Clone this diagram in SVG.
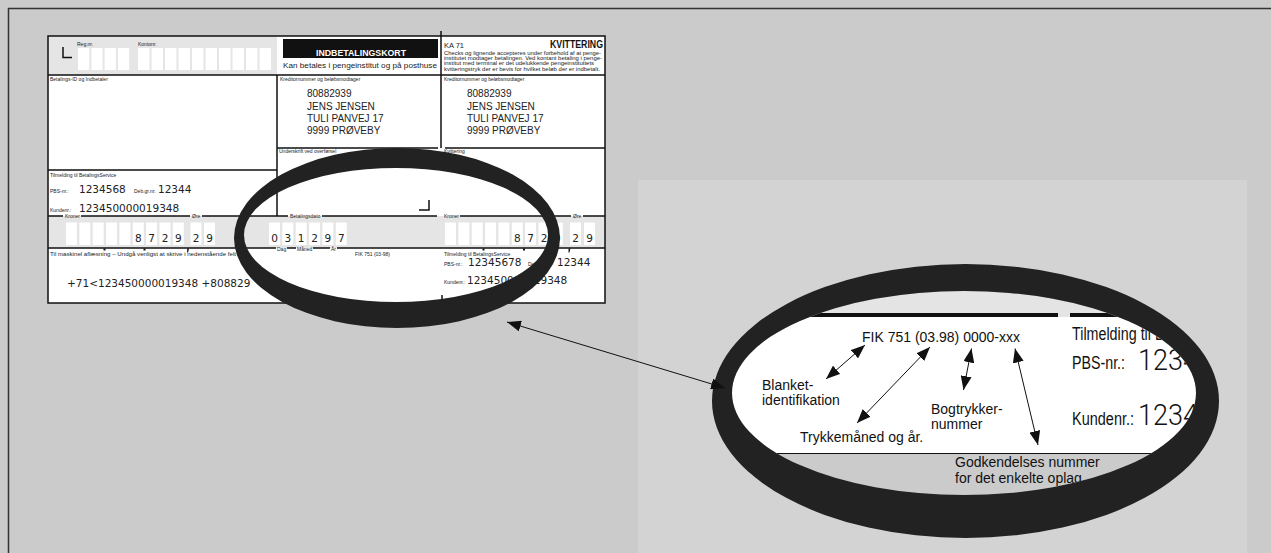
<svg xmlns="http://www.w3.org/2000/svg" width="1271" height="553" viewBox="0 0 1271 553">
<style>
.t5{font-family:"Liberation Sans",Arial,sans-serif;font-size:5px;fill:#222}
.ocr{font-family:"DejaVu Sans",sans-serif;font-size:10.5px;fill:#222}
.adr{font-family:"Liberation Sans",Arial,sans-serif;font-size:10px;fill:#222}
.dig{font-family:"DejaVu Sans",sans-serif;font-size:10.5px;fill:#222;text-anchor:middle}
.big{font-family:"Liberation Sans",Arial,sans-serif;font-size:14px;fill:#111}
.cnd{font-family:"Liberation Sans Narrow","Liberation Sans",Arial,sans-serif;font-size:17.5px;fill:#111}
.thin{font-family:Roboto,"Liberation Sans",sans-serif;font-weight:300;font-size:30px;fill:#111}
.ln{stroke:#111;stroke-width:1.5;fill:none}
.box{fill:#fff}
.ring{fill:#222;fill-rule:evenodd}
.arr{stroke:#111;stroke-width:1;fill:none;marker-start:url(#ah);marker-end:url(#ah)}
</style>
<defs>
<marker id="ah" viewBox="0 0 14 11" refX="14" refY="5.5" markerWidth="14" markerHeight="11" markerUnits="userSpaceOnUse" orient="auto-start-reverse"><path d="M0,0 L14,5.5 L0,11 z" fill="#111"/></marker>
<clipPath id="mag"><ellipse cx="964" cy="393" rx="232" ry="102"/></clipPath>
</defs>

<g id="background">
<rect width="1271" height="553" fill="#cbcbcb"/>
<path d="M8.5,553 V8.5 H1271" stroke="#333" stroke-width="1.5" fill="none"/>
<rect x="638" y="180" width="609" height="373" fill="#d3d3d4"/>
</g>

<g id="form">
<rect x="48" y="36" width="557" height="267" fill="#fff"/>
<rect x="48" y="36" width="229" height="39" fill="#e5e5e5"/>
<rect x="48" y="216" width="557" height="32" fill="#e5e5e5"/>
<g class="box">
<rect x="78" y="48" width="11.3" height="22"/><rect x="91.3" y="48" width="11.3" height="22"/><rect x="104.6" y="48" width="11.3" height="22"/><rect x="117.9" y="48" width="11.3" height="22"/>
<rect x="138" y="48" width="11.5" height="22"/><rect x="151.5" y="48" width="11.5" height="22"/><rect x="165" y="48" width="11.5" height="22"/><rect x="178.5" y="48" width="11.5" height="22"/><rect x="192" y="48" width="11.5" height="22"/><rect x="205.5" y="48" width="11.5" height="22"/><rect x="219" y="48" width="11.5" height="22"/><rect x="232.5" y="48" width="11.5" height="22"/><rect x="246" y="48" width="11.5" height="22"/><rect x="259.5" y="48" width="11.5" height="22"/>
</g>
<path class="ln" stroke-width="2" d="M63,47 V57.5 H72"/>
<text class="t5" x="77" y="45.5">Reg.nr.</text>
<text class="t5" x="138" y="45.5">Kontonr.</text>
<rect x="283" y="39" width="155" height="19" fill="#111"/>
<text x="361" y="56" text-anchor="middle" font-family="Liberation Sans,Arial,sans-serif" font-weight="bold" font-size="9.3" fill="#fff" textLength="90" lengthAdjust="spacingAndGlyphs">INDBETALINGSKORT</text>
<text x="283" y="67.5" font-family="Liberation Sans,Arial,sans-serif" font-size="7.3" fill="#222" textLength="154" lengthAdjust="spacingAndGlyphs">Kan betales i pengeinstitut og på posthuse</text>
<text x="444" y="47.5" font-family="Liberation Sans,Arial,sans-serif" font-size="7.5" fill="#222">KA 71</text>
<text x="550" y="48.3" font-family="Liberation Sans,Arial,sans-serif" font-weight="bold" font-size="10" fill="#111" textLength="53" lengthAdjust="spacingAndGlyphs">KVITTERING</text>
<text class="t5" x="444" y="54.5" font-size="4.8" textLength="157" lengthAdjust="spacingAndGlyphs">Checks og lignende accepteres under forbehold af at penge-</text>
<text class="t5" x="444" y="60" font-size="4.8" textLength="158" lengthAdjust="spacingAndGlyphs">institutet modtager betalingen. Ved kontant betaling i penge-</text>
<text class="t5" x="444" y="65.3" font-size="4.8" textLength="150" lengthAdjust="spacingAndGlyphs">institut med terminal er det udelukkende pengeinstituttets</text>
<text class="t5" x="444" y="70.6" font-size="4.8" textLength="156" lengthAdjust="spacingAndGlyphs">kvitteringstryk der er bevis for hvilket beløb der er indbetalt.</text>
<rect class="ln" x="48" y="36" width="557" height="267"/>
<path class="ln" d="M48,75 H605 M277,75 V216 M48,170 H277 M441,31 V148 M277,148 H438 M445,148 H605 M442,295 V303"/>
<path class="ln" stroke-width="2" d="M419,210 H429 V200"/>
<text class="t5" x="50" y="81">Betalings-ID og Indbetaler</text>
<text class="t5" x="280" y="81">Kreditornummer og beløbsmodtager</text>
<text class="t5" x="444" y="81">Kreditornummer og beløbsmodtager</text>
<text class="adr" x="307" y="97">80882939</text>
<text class="adr" x="307" y="110">JENS JENSEN</text>
<text class="adr" x="307" y="122">TULI PANVEJ 17</text>
<text class="adr" x="307" y="134">9999 PRØVEBY</text>
<text class="adr" x="467" y="97">80882939</text>
<text class="adr" x="467" y="110">JENS JENSEN</text>
<text class="adr" x="467" y="122">TULI PANVEJ 17</text>
<text class="adr" x="467" y="134">9999 PRØVEBY</text>
<text class="t5" x="279" y="152.5">Underskrift ved overførsel</text>
<text class="t5" x="444" y="152.5">Kvittering</text>
<text class="t5" x="50" y="176.5">Tilmelding til BetalingsService</text>
<text class="t5" x="50" y="193">PBS-nr.:</text>
<text class="ocr" x="79" y="193">1234568</text>
<text class="t5" x="134" y="193">Deb.gr.nr.</text>
<text class="ocr" x="158" y="193">12344</text>
<text class="t5" x="50" y="212">Kundenr.:</text>
<text class="ocr" x="79" y="212">123450000019348</text>
<path class="ln" d="M48,216 H63 M81,216 H190 M202,216 H288 M322,216 H437 M460,216 H571 M583,216 H605"/>
<text class="t5" x="65" y="217.7">Kroner</text>
<text class="t5" x="192" y="217.7">Øre</text>
<text class="t5" x="290" y="217.7">Betalingsdato</text>
<text class="t5" x="444" y="217.7">Kroner</text>
<text class="t5" x="573" y="217.7">Øre</text>
<g class="box">
<rect x="66" y="222.5" width="11" height="22.5"/><rect x="79.35" y="222.5" width="11" height="22.5"/><rect x="92.7" y="222.5" width="11" height="22.5"/><rect x="106.05" y="222.5" width="11" height="22.5"/><rect x="119.4" y="222.5" width="11" height="22.5"/><rect x="132.75" y="222.5" width="11" height="22.5"/><rect x="146.1" y="222.5" width="11" height="22.5"/><rect x="159.45" y="222.5" width="11" height="22.5"/><rect x="172.8" y="222.5" width="11" height="22.5"/>
<rect x="190.5" y="222.5" width="11" height="22.5"/><rect x="204" y="222.5" width="11" height="22.5"/>
<rect x="269" y="222.5" width="11" height="22.5"/><rect x="282.35" y="222.5" width="11" height="22.5"/><rect x="295.7" y="222.5" width="11" height="22.5"/><rect x="309.05" y="222.5" width="11" height="22.5"/><rect x="322.4" y="222.5" width="11" height="22.5"/><rect x="335.75" y="222.5" width="11" height="22.5"/>
<rect x="445" y="222.5" width="11" height="22.5"/><rect x="458.35" y="222.5" width="11" height="22.5"/><rect x="471.7" y="222.5" width="11" height="22.5"/><rect x="485.05" y="222.5" width="11" height="22.5"/><rect x="498.4" y="222.5" width="11" height="22.5"/><rect x="511.75" y="222.5" width="11" height="22.5"/><rect x="525.1" y="222.5" width="11" height="22.5"/><rect x="538.45" y="222.5" width="11" height="22.5"/><rect x="551.8" y="222.5" width="11" height="22.5"/>
<rect x="570" y="222.5" width="11" height="22.5"/><rect x="584" y="222.5" width="11" height="22.5"/>
</g>
<text class="dig" x="138.3" y="241.5">8</text><text class="dig" x="151.6" y="241.5">7</text><text class="dig" x="165" y="241.5">2</text><text class="dig" x="178.3" y="241.5">9</text>
<text class="dig" x="196" y="241.5">2</text><text class="dig" x="209.5" y="241.5">9</text>
<text class="dig" x="274.5" y="241.5">0</text><text class="dig" x="287.9" y="241.5">3</text><text class="dig" x="301.2" y="241.5">1</text><text class="dig" x="314.6" y="241.5">2</text><text class="dig" x="327.9" y="241.5">9</text><text class="dig" x="341.3" y="241.5">7</text>
<text class="dig" x="517.3" y="241.5">8</text><text class="dig" x="530.6" y="241.5">7</text><text class="dig" x="544" y="241.5">2</text><text class="dig" x="557.3" y="241.5">9</text>
<text class="dig" x="575.5" y="241.5">2</text><text class="dig" x="589.5" y="241.5">9</text>
<path class="ln" d="M48,248 H276 M287,248 H296 M313,248 H330 M337,248 H605"/>
<g fill="#111">
<rect x="103.5" y="248.5" width="2" height="2"/><rect x="143.5" y="248.5" width="2" height="2"/><path d="M187.2,248.5 h1.8 l-0.9,4 h-1 z"/>
<rect x="482.5" y="248.5" width="2" height="2"/><rect x="523" y="248.5" width="2" height="2"/><path d="M568.6,248.5 h1.8 l-0.9,4 h-1 z"/>
</g>
<text class="t5" x="277" y="251">Dag</text>
<text class="t5" x="297" y="251">Måned</text>
<text class="t5" x="331" y="251">År</text>
<text class="t5" x="50" y="256" textLength="186" lengthAdjust="spacingAndGlyphs">Til maskinel aflæsning – Undgå venligst at skrive i nedenstående felt</text>
<text class="ocr" x="67" y="286.5">+71&lt;123450000019348 +808829</text>
<text class="t5" x="355" y="256" font-size="5.7">FIK 751 (03-98)</text>
<text class="t5" x="444" y="256">Tilmelding til BetalingsService</text>
<text class="t5" x="444" y="266">PBS-nr.:</text>
<text class="ocr" x="468" y="266">12345678</text>
<text class="t5" x="528" y="266">Deb.gr.nr.</text>
<text class="ocr" x="557" y="266">12344</text>
<text class="t5" x="444" y="283.5">Kundenr.:</text>
<text class="ocr" x="467" y="283.5">123450000019348</text>
</g>

<g id="lens-small">
<path class="ring" d="M234,238 a163,90 0 1,0 326,0 a163,90 0 1,0 -326,0 Z M244,235 a152,67 0 1,0 304,0 a152,67 0 1,0 -304,0 Z"/>
</g>

<g id="magnified" clip-path="url(#mag)">
<rect x="700" y="280" width="540" height="240" fill="#cbcbcb"/>
<rect x="700" y="280" width="540" height="37" fill="#e4e4e4"/>
<rect x="700" y="313" width="358" height="4" fill="#111"/>
<rect x="1070" y="313" width="170" height="4" fill="#111"/>
<rect x="700" y="317" width="540" height="136" fill="#fff"/>
<path d="M700,453.5 H1240" stroke="#111" stroke-width="1.2"/>
<text class="big" x="862" y="342">FIK 751 (03.98) 0000-xxx</text>
<text class="big" x="762" y="390">Blanket-</text>
<text class="big" x="762" y="405">identifikation</text>
<text class="big" x="931" y="413.5">Bogtrykker-</text>
<text class="big" x="931" y="428.5">nummer</text>
<text class="big" x="800" y="441.5">Trykkemåned og år.</text>
<text class="big" x="955" y="467">Godkendelses nummer</text>
<text class="big" x="955" y="483">for det enkelte oplag</text>
<text class="cnd" x="1072" y="340" textLength="189.5" lengthAdjust="spacingAndGlyphs">Tilmelding til BetalingsService</text>
<text class="cnd" x="1072" y="369" textLength="53" lengthAdjust="spacingAndGlyphs">PBS-nr.:</text>
<text class="thin" x="1138" y="369.5" textLength="120" lengthAdjust="spacingAndGlyphs">12345678</text>
<text class="cnd" x="1072" y="425" textLength="62" lengthAdjust="spacingAndGlyphs">Kundenr.:</text>
<text class="thin" x="1138" y="425" textLength="225" lengthAdjust="spacingAndGlyphs">123450000019348</text>
</g>

<g id="lens-large">
<path class="ring" d="M712,401 a253.5,137 0 1,0 507,0 a253.5,137 0 1,0 -507,0 Z M732,393 a232,102 0 1,0 464,0 a232,102 0 1,0 -464,0 Z"/>
</g>

<g id="connectors">
<path class="arr" d="M507,322 L725,388"/>
<path class="arr" d="M865,345 L826,379"/>
<path class="arr" d="M930,347 L857,423"/>
<path class="arr" d="M971.5,348.5 L963.5,390"/>
<path class="arr" d="M1015,348.5 L1038,445"/>
</g>
</svg>
